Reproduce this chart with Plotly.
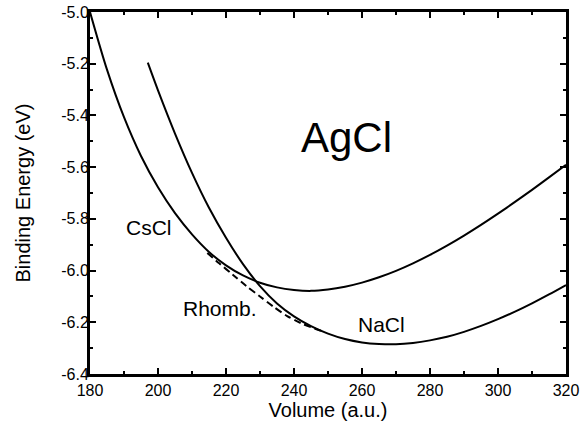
import plotly.graph_objects as go

# CsCl structure
cscl_v = [180, 185, 190, 195, 200, 205, 210, 215, 220, 225, 230, 235, 240, 245, 250, 255,
          260, 265, 270, 275, 280, 285, 290, 295, 300, 305, 310, 315, 320]
cscl_e = [-5.000, -5.223, -5.407, -5.557, -5.678, -5.778, -5.860, -5.928, -5.980, -6.019, -6.047,
          -6.065, -6.075, -6.0785, -6.0733, -6.0626, -6.0467, -6.0261, -6.0012, -5.9722, -5.9395,
          -5.9036, -5.8648, -5.8234, -5.7799, -5.7345, -5.6877, -5.6398, -5.5912]

# NaCl structure
nacl_v = [197, 200, 205, 210, 215, 220, 225, 230, 235, 240, 245, 250, 255, 260, 265, 270,
          275, 280, 285, 290, 295, 300, 305, 310, 315, 320]
nacl_e = [-5.196, -5.303, -5.470, -5.622, -5.757, -5.873, -5.975, -6.060, -6.127, -6.177, -6.215,
          -6.244, -6.265, -6.278, -6.284, -6.285, -6.280, -6.270, -6.256, -6.237, -6.214, -6.188,
          -6.159, -6.127, -6.0925, -6.056]

# Rhombohedral path (dashed)
rhomb_v = [214.5, 218, 222, 226, 230, 234, 238, 242, 246, 249]
rhomb_e = [-5.932, -5.972, -6.016, -6.060, -6.100, -6.140, -6.176, -6.203, -6.224, -6.237]

x_ticks = [180, 200, 220, 240, 260, 280, 300, 320]
y_ticks = [-6.4, -6.2, -6.0, -5.8, -5.6, -5.4, -5.2, -5.0]
y_labels = ["-6.4", "-6.2", "-6.0", "-5.8", "-5.6", "-5.4", "-5.2", "-5.0"]

labels = [("AgCl", 255.3, -5.487, 42), ("CsCl", 197.4, -5.835, 21),
          ("Rhomb.", 218.2, -6.147, 21), ("NaCl", 265.6, -6.210, 21)]

FONT = "Liberation Sans, Arial, Helvetica, sans-serif"

fig = go.Figure()
fig.add_trace(go.Scatter(x=cscl_v, y=cscl_e, mode="lines",
                         line=dict(color="black", width=2, shape="spline", smoothing=0.8)))
fig.add_trace(go.Scatter(x=nacl_v, y=nacl_e, mode="lines",
                         line=dict(color="black", width=2, shape="spline", smoothing=0.8)))
fig.add_trace(go.Scatter(x=rhomb_v, y=rhomb_e, mode="lines",
                         line=dict(color="black", width=2, dash="7px,4px", shape="spline", smoothing=0.8)))

for txt, xv, yv, sz in labels:
    fig.add_annotation(x=xv, y=yv, xref="x", yref="y", text=txt, showarrow=False,
                       font=dict(family=FONT, size=sz, color="black"))

axis_common = dict(showgrid=False, zeroline=False, showline=True, linecolor="black", linewidth=3,
                   mirror="ticks", ticks="inside", tickcolor="black", tickwidth=1.5, ticklen=6,
                   automargin=False,
                   tickfont=dict(family=FONT, size=16, color="black"),
                   minor=dict(ticks="inside", ticklen=3, tickwidth=1.5, tickcolor="black", showgrid=False))

fig.update_xaxes(range=[180, 320], tickvals=x_ticks, minor_dtick=10,
                 title=dict(text="Volume (a.u.)", font=dict(family=FONT, size=20, color="black"), standoff=2),
                 **axis_common)
fig.update_yaxes(range=[-6.4, -5.0], tickvals=y_ticks, ticktext=y_labels, minor_dtick=0.1,
                 ticklabelstandoff=-5,
                 title=dict(text="Binding Energy (eV)", font=dict(family=FONT, size=20, color="black"), standoff=26),
                 **axis_common)

fig.update_layout(width=581, height=424, margin=dict(l=90, r=15, t=12, b=50),
                  plot_bgcolor="white", paper_bgcolor="white", showlegend=False)

fig.write_html("out.html")
